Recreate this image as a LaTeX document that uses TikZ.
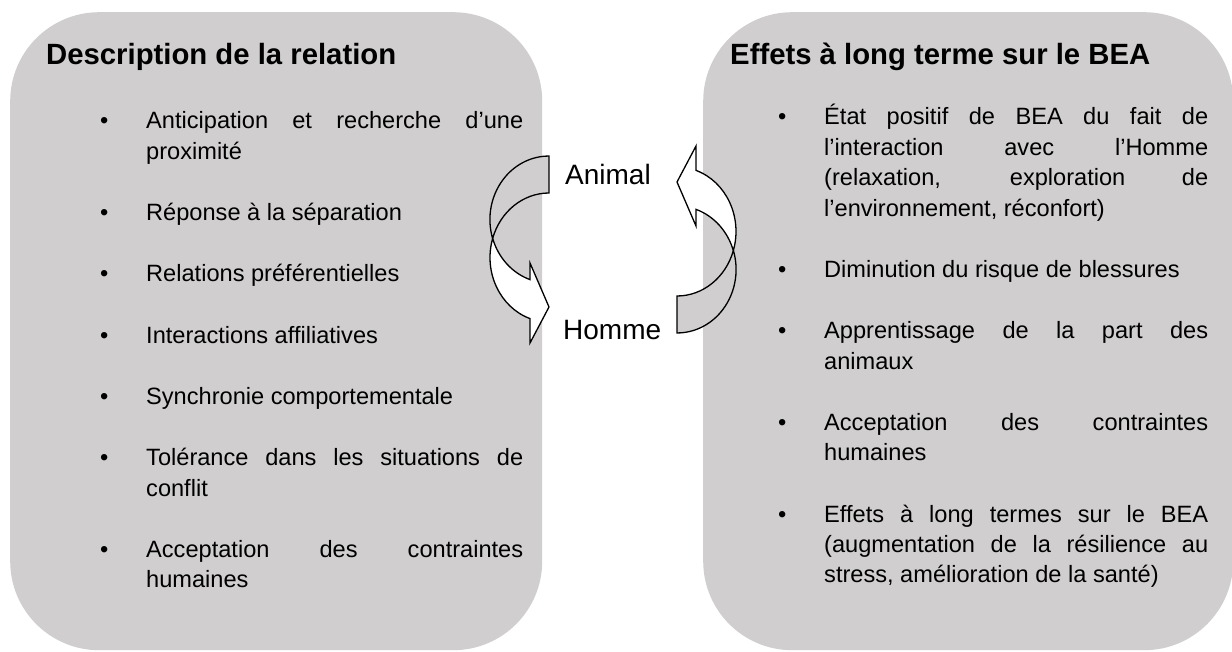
\documentclass[tikz,border=0pt]{standalone}
\usepackage{fontspec}
\setmainfont{Liberation Sans}
\usepackage{tikz}
\usetikzlibrary{positioning}
\definecolor{fond}{HTML}{D0CECE}
\tikzset{
  panel/.style={rounded corners=89pt, fill=fond, draw=none, inner sep=0pt, anchor=north west},
  titre/.style={font=\fontsize{29.3}{35}\selectfont\bfseries, anchor=base west, inner sep=0pt},
  liste/.style={anchor=base west, inner sep=0pt, align=justify},
  etiquette/.style={font=\fontsize{28}{33}\selectfont, anchor=base west, inner sep=0pt},
  boucle/.pic={
    % back face (shaded)
    \filldraw[fill=fond, draw=black, line width=1.3pt]
      (-64,-51.5) arc[start angle=270, end angle=197.1, x radius=59, y radius=64.5]
      arc[start angle=162.6, end angle=270, x radius=59, y radius=63.5] -- cycle;
    % front face with the head
    \filldraw[fill=white, draw=black, line width=1.3pt]
      (-120.3,-6) arc[start angle=162.6, end angle=108.8, x radius=59, y radius=63.5]
      -- (-83,18.5) -- (-64,62.5) -- (-83,98.5) -- (-83,74.1)
      arc[start angle=108.8, end angle=197.1, x radius=59, y radius=64.5] -- cycle;
  }
}
\newcommand{\puce}[1]{\noindent\llap{\makebox[46pt][l]{\textbullet}}#1\par}
\newcommand{\corps}{\fontsize{23.6}{30.4}\selectfont\leftskip=46pt\parskip=30.9pt
  \tolerance=10000\hyphenpenalty=10000\exhyphenpenalty=10000\relax}

\begin{document}
\begin{tikzpicture}[x=1pt, y=-1pt]
\useasboundingbox (0,0) rectangle (1232,652);

% Panel 1: description
\node[panel, minimum width=532pt, minimum height=638pt] (pG) at (10,12) {};
\node[titre] (titreG) at (46,65) {Description de la relation};
\node[liste, text width=423pt] (listeG) at (100,129) {%
  \corps
  \puce{Anticipation et recherche d’une\linebreak proximité}
  \puce{Réponse à la séparation}
  \puce{Relations préférentielles}
  \puce{Interactions affiliatives}
  \puce{Synchronie comportementale}
  \puce{Tolérance dans les situations de\linebreak conflit}
  \puce{Acceptation des contraintes\linebreak humaines}
};

% Panel 2: long term effects
\node[panel, minimum width=530pt, minimum height=638pt] (pD) at (703,12) {};
\node[titre] (titreD) at (730,65) {Effets à long terme sur le BEA};
\node[liste, text width=430pt] (listeD) at (778,125) {%
  \corps
  \puce{État positif de BEA du fait de\linebreak l’interaction avec l’Homme\linebreak (relaxation, exploration de\linebreak l’environnement, réconfort)}
  \puce{Diminution du risque de blessures}
  \puce{Apprentissage de la part des\linebreak animaux}
  \puce{Acceptation des contraintes\linebreak humaines}
  \puce{Effets à long termes sur le BEA\linebreak (augmentation de la résilience au\linebreak stress, amélioration de la santé)}
};

% Middle: the two curved arrows
\pic at (613,244.5) {boucle};
\pic[rotate=180] at (613,244.5) {boucle};
\node[etiquette] (animal) at (565,185) {Animal};
\node[etiquette] (homme) at (563,340) {Homme};

\end{tikzpicture}
\end{document}
